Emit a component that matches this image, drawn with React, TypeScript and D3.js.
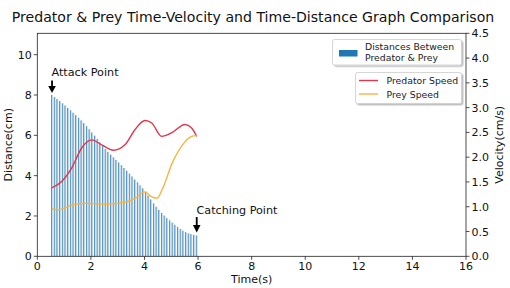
import React from "react";
import * as d3 from "d3";

const title = "Predator & Prey Time-Velocity and Time-Distance Graph Comparison";
const xTicks = [0, 2, 4, 6, 8, 10, 12, 14, 16];
const yLeftTicks = [0, 2, 4, 6, 8, 10];
const yRightTicks = [0, 0.5, 1.0, 1.5, 2.0, 2.5, 3.0, 3.5, 4.0, 4.5];

const barTimes = [
  0.55, 0.65, 0.75, 0.85, 0.95, 1.05, 1.15, 1.25, 1.35, 1.45, 1.55, 1.65, 1.75, 1.85,
  1.95, 2.05, 2.15, 2.25, 2.35, 2.45, 2.55, 2.65, 2.75, 2.85, 2.95, 3.05, 3.15, 3.25,
  3.35, 3.45, 3.55, 3.65, 3.75, 3.85, 3.95, 4.05, 4.15, 4.25, 4.35, 4.45, 4.55, 4.65,
  4.75, 4.85, 4.95, 5.05, 5.15, 5.25, 5.35, 5.45, 5.55, 5.65, 5.75, 5.85, 5.95,
];
const distances = [
  8.0, 7.9, 7.8, 7.7, 7.59, 7.48, 7.36, 7.24, 7.12, 7.0, 6.87, 6.74, 6.6, 6.45,
  6.3, 6.14, 5.98, 5.82, 5.65, 5.48, 5.32, 5.18, 5.04, 4.91, 4.78, 4.65, 4.52, 4.38,
  4.24, 4.1, 3.96, 3.81, 3.67, 3.52, 3.37, 3.2, 3.01, 2.82, 2.63, 2.46, 2.3, 2.15,
  2.02, 1.89, 1.78, 1.67, 1.56, 1.46, 1.36, 1.27, 1.2, 1.14, 1.1, 1.06, 1.03,
];

const predTimes = [0.54, 0.91, 1.28, 1.66, 2.03, 2.4, 2.84, 3.27, 3.65, 4.02, 4.27, 4.64, 5.01, 5.51, 5.76, 5.95];
const predSpeed = [1.38, 1.51, 1.78, 2.19, 2.35, 2.25, 2.14, 2.25, 2.56, 2.74, 2.69, 2.42, 2.49, 2.66, 2.59, 2.42];
const preyTimes = [0.54, 0.79, 1.28, 1.78, 2.53, 3.27, 3.65, 4.02, 4.21, 4.46, 4.71, 5.01, 5.38, 5.76, 5.95];
const preySpeed = [0.96, 0.94, 1.03, 1.07, 1.05, 1.09, 1.17, 1.3, 1.22, 1.17, 1.41, 1.85, 2.22, 2.42, 2.44];

const FONT = "DejaVu Sans, sans-serif";

export default function App() {
  const W = 510, H = 288;
  const left = 37.3, right = 466, top = 33.3, bottom = 256.3;
  const x = d3.scaleLinear().domain([0, 16]).range([left, right]);
  const yL = d3.scaleLinear().domain([0, 11.06]).range([bottom, top]);
  const yR = d3.scaleLinear().domain([0, 4.5]).range([bottom, top]);
  const line = d3.line<[number, number]>().x(d => x(d[0])).y(d => yR(d[1])).curve(d3.curveMonotoneX);
  const predPts = predTimes.map((t, i) => [t, predSpeed[i]] as [number, number]);
  const preyPts = preyTimes.map((t, i) => [t, preySpeed[i]] as [number, number]);
  const bw = x(0.065) - x(0);

  return (
    <div style={{ position: "absolute", left: 0, top: 0 }}>
      <svg width={W} height={H} style={{ display: "block", fontFamily: FONT }}>
        <defs>
          <filter id="sh" x="-10%" y="-10%" width="130%" height="150%">
            <feDropShadow dx="1.5" dy="1.5" stdDeviation="0.6" floodColor="#000" floodOpacity="0.25" />
          </filter>
        </defs>
        <rect width={W} height={H} fill="#fff" />
        <text x={W / 2 - 2} y={22} textAnchor="middle" fontSize={14.1} fill="#111">{title}</text>

        {barTimes.map((t, i) => (
          <g key={i}>
            <rect x={x(t) - bw / 2} y={yL(distances[i])} width={bw} height={yL(0) - yL(distances[i])}
              fill="#1f77b4" fillOpacity={0.28} />
            <rect x={x(t) - bw / 2} y={yL(distances[i])} width={0.7} height={yL(0) - yL(distances[i])}
              fill="#1f6fa8" fillOpacity={0.9} />
          </g>
        ))}

        <path d={line(predPts) || ""} fill="none" stroke="#e0354b" strokeWidth={1.4} />
        <path d={line(preyPts) || ""} fill="none" stroke="#f6b541" strokeWidth={1.4} />

        <rect x={left} y={top} width={right - left} height={bottom - top} fill="none" stroke="#222" strokeWidth={0.8} />

        {xTicks.map(t => (
          <g key={t}>
            <line x1={x(t)} x2={x(t)} y1={bottom} y2={bottom + 3.5} stroke="#222" strokeWidth={0.8} />
            <text x={x(t)} y={bottom + 13.5} textAnchor="middle" fontSize={11} fill="#111">{t}</text>
          </g>
        ))}
        {yLeftTicks.map(t => (
          <g key={t}>
            <line x1={left - 3.5} x2={left} y1={yL(t)} y2={yL(t)} stroke="#222" strokeWidth={0.8} />
            <text x={left - 5.5} y={yL(t) + 4} textAnchor="end" fontSize={11} fill="#111">{t}</text>
          </g>
        ))}
        {yRightTicks.map(t => (
          <g key={t}>
            <line x1={right} x2={right + 3.5} y1={yR(t)} y2={yR(t)} stroke="#222" strokeWidth={0.8} />
            <text x={right + 5.5} y={yR(t) + 4} textAnchor="start" fontSize={11} fill="#111">{t.toFixed(1)}</text>
          </g>
        ))}

        <text x={(left + right) / 2} y={282.5} textAnchor="middle" fontSize={11} fill="#111">Time(s)</text>
        <text transform={`translate(12,${(top + bottom) / 2}) rotate(-90)`} textAnchor="middle" fontSize={11} fill="#111">Distance(cm)</text>
        <text transform={`translate(503,${(top + bottom) / 2}) rotate(-90)`} textAnchor="middle" fontSize={11} fill="#111">Velocity(cm/s)</text>

        {/* annotations */}
        <text x={51.5} y={75.5} fontSize={11.2} fill="#111">Attack Point</text>
        <line x1={x(0.55)} x2={x(0.55)} y1={80.5} y2={87} stroke="#000" strokeWidth={1.8} />
        <path d={`M${x(0.55) - 3.8},86 L${x(0.55) + 3.8},86 L${x(0.55)},93 Z`} fill="#000" />

        <text x={196.5} y={214} fontSize={11.2} fill="#111">Catching Point</text>
        <line x1={x(5.95)} x2={x(5.95)} y1={217} y2={226} stroke="#000" strokeWidth={1.8} />
        <path d={`M${x(5.95) - 3.8},225 L${x(5.95) + 3.8},225 L${x(5.95)},232.5 Z`} fill="#000" />

        {/* legend 1 */}
        <rect x={332.5} y={39.5} width={129} height={25.5} rx={2} fill="#fff" stroke="#ccc" strokeWidth={0.8} filter="url(#sh)" />
        <rect x={339} y={50} width={18.5} height={6.5} fill="#1f77b4" />
        <text x={365} y={49.5} fontSize={9.3} fill="#222">Distances Between</text>
        <text x={365} y={61} fontSize={9.3} fill="#222">Predator &amp; Prey</text>

        {/* legend 2 */}
        <rect x={355.5} y={72.5} width={106} height={31} rx={2} fill="#fff" stroke="#ccc" strokeWidth={0.8} filter="url(#sh)" />
        <line x1={359} x2={378} y1={80.5} y2={80.5} stroke="#e0354b" strokeWidth={1.4} />
        <text x={386.5} y={84} fontSize={9.3} fill="#222">Predator Speed</text>
        <line x1={359} x2={378} y1={94} y2={94} stroke="#f6b541" strokeWidth={1.4} />
        <text x={386.5} y={97.5} fontSize={9.3} fill="#222">Prey Speed</text>
      </svg>
    </div>
  );
}
